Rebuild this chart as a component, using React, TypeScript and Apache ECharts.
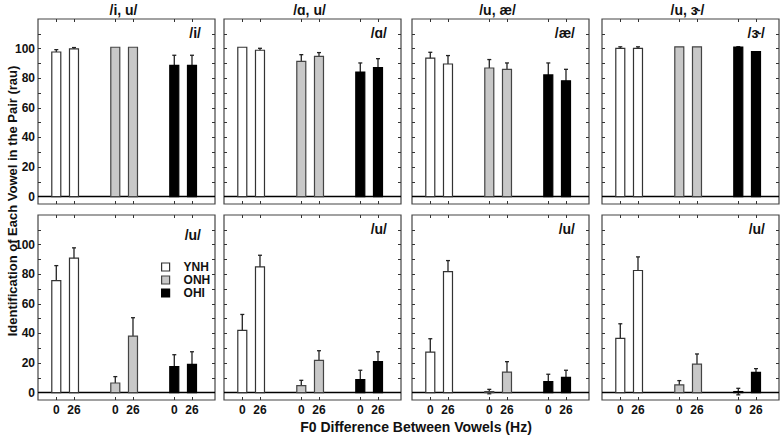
import React, { useEffect, useRef } from "react";
import * as echarts from "echarts";

const PAIR_TITLES = ["/i, u/", "/ɑ, u/", "/u, æ/", "/u, ɝ/"];
const TOP_TARGETS = ["/i/", "/ɑ/", "/æ/", "/ɝ/"];
const BOTTOM_TARGET = "/u/";
const GROUPS = ["YNH", "ONH", "OHI"];
const F0_LABELS = ["0", "26"];
const Y_LABEL_TICKS = [0, 20, 40, 60, 80, 100];
const Y_MINOR_TICKS = [0, 10, 20, 30, 40, 50, 60, 70, 80, 90, 100, 110];
const Y_TITLE = "Identification of Each Vowel in the Pair (rau)";
const X_TITLE = "F0 Difference Between Vowels (Hz)";

// means[panel][group][f0]  (f0: 0 Hz, 26 Hz)
const TOP_MEANS = [
  [[97.7, 99.8], [100.9, 100.9], [88.7, 88.7]],
  [[100.9, 98.9], [91.4, 94.8], [84.2, 87.2]],
  [[93.5, 89.6], [86.9, 86.0], [82.2, 78.2]],
  [[100.2, 100.2], [101.2, 101.2], [101.0, 98.0]],
];
const TOP_ERR = [
  [[1.6, 0.9], [0, 0], [6.8, 6.8]],
  [[0, 1.3], [4.5, 2.5], [6.1, 6.0]],
  [[4.0, 5.7], [5.7, 4.3], [8.1, 7.8]],
  [[1.0, 1.0], [0, 0], [0.3, 0]],
];
const BOTTOM_MEANS = [
  [[75.7, 90.8], [6.5, 38.2], [17.5, 19.1]],
  [[42.0, 84.9], [4.7, 21.8], [8.8, 20.9]],
  [[27.4, 81.8], [0.7, 13.9], [7.4, 10.3]],
  [[36.6, 82.5], [5.2, 19.3], [0.7, 13.7]],
];
const BOTTOM_ERR = [
  [[10.1, 7.0], [4.3, 12.4], [8.1, 8.5]],
  [[10.8, 7.9], [3.6, 6.5], [6.3, 6.7]],
  [[9.0, 7.4], [1.5, 7.0], [5.0, 4.8]],
  [[9.9, 9.2], [2.9, 6.8], [2.2, 2.5]],
];

const FONT = "'Liberation Sans', Arial, Helvetica, sans-serif";
const FILLS = ["#ffffff", "#c8c8c8", "#000000"];
const STROKES = ["#333333", "#444444", "#000000"];
const OFFSET = 0.15; // half-separation of the 0 / 26 Hz bars inside a group

export default function App() {
  const ref = useRef<HTMLDivElement>(null);

  useEffect(() => {
    if (!ref.current) return;
    const chart = echarts.init(ref.current, null, { renderer: "svg" });

    const colLeft = [38, 224, 412, 602];
    const colW = 177;
    const rowTop = [19, 215];
    const rowH = 185;

    const grids: any[] = [];
    const xAxes: any[] = [];
    const yAxes: any[] = [];
    const series: any[] = [];
    const graphics: any[] = [];

    const xPositions: number[] = [];
    const xLabelMap: Record<string, string> = {};
    for (let g = 0; g < GROUPS.length; g++) {
      for (let f = 0; f < F0_LABELS.length; f++) {
        const x = +(g + (f === 0 ? -OFFSET : OFFSET)).toFixed(2);
        xPositions.push(x);
        xLabelMap[x.toFixed(2)] = F0_LABELS[f];
      }
    }

    for (let row = 0; row < 2; row++) {
      for (let col = 0; col < 4; col++) {
        const i = row * 4 + col;
        const means = row === 0 ? TOP_MEANS[col] : BOTTOM_MEANS[col];
        const errs = row === 0 ? TOP_ERR[col] : BOTTOM_ERR[col];
        grids.push({
          left: colLeft[col],
          top: rowTop[row],
          width: colW,
          height: rowH,
          show: true,
          borderColor: "#444",
          borderWidth: 1.2,
          backgroundColor: "transparent",
        });
        const tickStyle = { show: true, inside: true, length: 3, lineStyle: { color: "#333", width: 1 } };
        const noLine = { show: false, onZero: false };
        xAxes.push({
          type: "value",
          gridIndex: i,
          min: -0.46,
          max: 2.54,
          position: "bottom",
          axisLine: noLine,
          splitLine: { show: false },
          axisTick: { ...tickStyle, customValues: xPositions },
          axisLabel: {
            show: row === 1,
            customValues: xPositions,
            formatter: (v: number) => xLabelMap[(+v).toFixed(2)] ?? "",
            fontFamily: FONT,
            fontWeight: "bold",
            fontSize: 12,
            color: "#111",
            margin: 4,
          },
        });
        xAxes.push({
          type: "value",
          gridIndex: i,
          min: -0.46,
          max: 2.54,
          position: "top",
          axisLine: noLine,
          splitLine: { show: false },
          axisTick: { ...tickStyle, customValues: xPositions },
          axisLabel: { show: false },
        });
        yAxes.push({
          type: "value",
          gridIndex: i,
          min: -5,
          max: 120,
          position: "left",
          axisLine: noLine,
          splitLine: { show: false },
          axisTick: { ...tickStyle, customValues: Y_MINOR_TICKS },
          axisLabel: {
            show: col === 0,
            customValues: Y_LABEL_TICKS,
            fontFamily: FONT,
            fontWeight: "bold",
            fontSize: 12,
            color: "#111",
            margin: 3,
          },
        });
        yAxes.push({
          type: "value",
          gridIndex: i,
          min: -5,
          max: 120,
          position: "right",
          axisLine: noLine,
          splitLine: { show: false },
          axisTick: { ...tickStyle, customValues: Y_MINOR_TICKS },
          axisLabel: { show: false },
        });

        for (let g = 0; g < GROUPS.length; g++) {
          const data = F0_LABELS.map((_, f) => [g + (f === 0 ? -OFFSET : OFFSET), means[g][f], errs[g][f]]);
          const fill = FILLS[g];
          const stroke = STROKES[g];
          const s: any = {
            type: "custom",
            name: GROUPS[g],
            xAxisIndex: 2 * i,
            yAxisIndex: 2 * i,
            itemStyle: { color: fill, borderColor: stroke, borderWidth: 1.2 },
            data,
            z: 3,
            renderItem: (params: any, api: any) => {
              const x = api.value(0);
              const m = api.value(1);
              const e = api.value(2);
              const base = api.coord([x, 0]);
              const top = api.coord([x, m]);
              const hi = api.coord([x, m + e]);
              const lo = api.coord([x, m - e]);
              const w = 9;
              const children: any[] = [];
              if (e > 0) {
                const es = { stroke: "#222", lineWidth: 1.3 };
                children.push({ type: "line", shape: { x1: top[0], y1: lo[1], x2: top[0], y2: hi[1] }, style: es });
                children.push({ type: "line", shape: { x1: top[0] - 2, y1: hi[1], x2: top[0] + 2, y2: hi[1] }, style: es });
                if (m - e < 0) {
                  children.push({ type: "line", shape: { x1: top[0] - 2, y1: lo[1], x2: top[0] + 2, y2: lo[1] }, style: es });
                }
              }
              children.push({
                type: "rect",
                shape: { x: top[0] - w / 2, y: top[1], width: w, height: base[1] - top[1] },
                style: { fill, stroke, lineWidth: 1.2 },
              });
              return { type: "group", children };
            },
          };
          if (g === 0) {
            s.markLine = {
              silent: true,
              symbol: "none",
              label: { show: false },
              lineStyle: { color: "#000", width: 1.3, type: "solid" },
              data: [{ yAxis: 0 }],
              z: 2,
            };
          }
          series.push(s);
        }

        // panel titles and target labels
        const right = colLeft[col] + colW;
        if (row === 0) {
          graphics.push({
            type: "text",
            x: colLeft[col] + colW / 2 - 3,
            y: 10,
            style: {
              text: PAIR_TITLES[col],
              font: `bold 14px ${FONT}`,
              fill: "#111",
              textAlign: "center",
              textVerticalAlign: "middle",
            },
          });
        }
        const labelOffset = row === 1 && col === 0 ? 20 : 14;
        graphics.push({
          type: "text",
          x: right - 14,
          y: rowTop[row] + labelOffset,
          style: {
            text: row === 0 ? TOP_TARGETS[col] : BOTTOM_TARGET,
            font: `bold 14px ${FONT}`,
            fill: "#111",
            textAlign: "right",
            textVerticalAlign: "middle",
          },
        });
      }
    }

    graphics.push({
      type: "text",
      x: 12,
      y: 201,
      rotation: Math.PI / 2,
      style: {
        text: Y_TITLE,
        font: `bold 13px ${FONT}`,
        fill: "#111",
        textAlign: "center",
        textVerticalAlign: "middle",
      },
    });
    graphics.push({
      type: "text",
      x: 416,
      y: 427,
      style: {
        text: X_TITLE,
        font: `bold 14px ${FONT}`,
        fill: "#111",
        textAlign: "center",
        textVerticalAlign: "middle",
      },
    });

    chart.setOption({
      animation: false,
      backgroundColor: "#fff",
      grid: grids,
      xAxis: xAxes,
      yAxis: yAxes,
      series,
      graphic: graphics,
      legend: {
        orient: "vertical",
        left: 156,
        top: 256,
        itemWidth: 8,
        itemHeight: 8,
        itemGap: 1,
        selectedMode: false,
        textStyle: { fontFamily: FONT, fontWeight: "bold", fontSize: 12, color: "#111", padding: [0, 0, 0, 9] },
        data: GROUPS.map((name, g) => ({
          name,
          icon: "rect",
          itemStyle: { color: FILLS[g], borderColor: STROKES[g], borderWidth: 1.2 },
        })),
      },
    });

    return () => chart.dispose();
  }, []);

  return (
    <div
      ref={ref}
      style={{ position: "absolute", left: 0, top: 0, width: 780, height: 435 }}
    />
  );
}
